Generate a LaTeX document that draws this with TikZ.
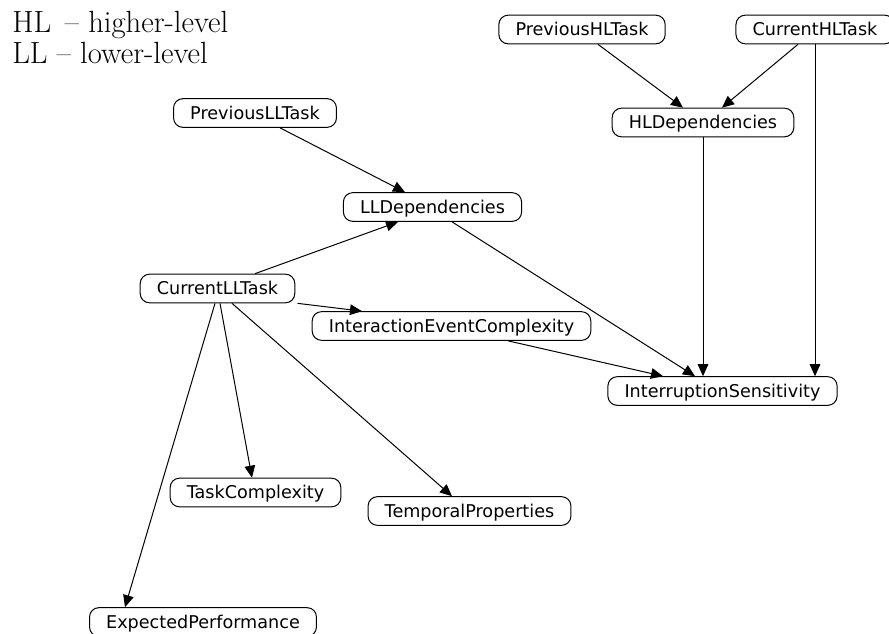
\documentclass[tikz,border=0pt]{standalone}
\usepackage{fontspec}
\newfontfamily\netfont{DejaVu Sans}
\usetikzlibrary{arrows.meta, calc}

\begin{document}
\begin{tikzpicture}[x=0.75pt, y=-0.75pt, >={Triangle[length=9pt,width=8pt]}, line join=round]
	
	%======================
	% STYLES
	%======================
	\tikzset{
		varnode/.style={draw, line width=0.75pt, rounded corners=7pt, inner xsep=12.5pt, inner ysep=0pt,
			minimum height=21.5pt, text height=9.6pt, text depth=0pt, font=\netfont\fontsize{13.2}{15}\selectfont},
		link/.style={->, line width=0.75pt},
		legendtext/.style={anchor=base west, inner sep=0pt, font=\fontsize{23}{27}\selectfont}
	}
	
	% page size in pixels
	\useasboundingbox (0,0) rectangle (889,633);
	
	%======================
	% LEGEND
	%======================
	\node[legendtext] (hlnote) at (12,32) {HL\hspace{0.45em}-- higher-level};
	\node[legendtext] (llnote) at (12,63) {LL -- lower-level};
	
	%======================
	% HIGHER-LEVEL TASK
	%======================
	\node[varnode] (prevhl) at (582,29.5) {PreviousHLTask};
	\node[varnode] (curhl) at (815,29.5) {CurrentHLTask};
	\node[varnode] (hldep) at (703,122.5) {HLDependencies};
	
	%======================
	% LOWER-LEVEL TASK
	%======================
	\node[varnode] (prevll) at (255,113) {PreviousLLTask};
	\node[varnode] (lldep) at (432.5,207) {LLDependencies};
	\node[varnode] (curll) at (217.5,288.5) {CurrentLLTask};
	\node[varnode] (intcomp) at (451.5,326) {InteractionEventComplexity};
	\node[varnode] (taskcomp) at (255.5,492.5) {TaskComplexity};
	\node[varnode] (tempprop) at (469.5,511) {TemporalProperties};
	\node[varnode] (expperf) at (203,622) {ExpectedPerformance};
	
	% target
	\node[varnode] (intsens) at (722.5,391) {InterruptionSensitivity};
	
	%======================
	% DEPENDENCIES
	%======================
	\draw[link] ($(prevhl.south)+(16,0)$) -- ($(hldep.north)+(-20,0)$);
	\draw[link] ($(curhl.south)+(-17,0)$) -- ($(hldep.north)+(19,0)$);
	\draw[link] (curhl.south) -- ($(intsens.north)+(92.5,0)$);
	\draw[link] (hldep.south) -- ($(intsens.north)+(-19.5,0)$);
	
	\draw[link] ($(prevll.south)+(25,0)$) -- ($(lldep.north)+(-27.5,0)$);
	\draw[link] ($(curll.north)+(37.5,0)$) -- ($(lldep.south)+(-34.5,0)$);
	\draw[link] ($(lldep.south)+(19.5,0)$) -- ($(intsens.north)+(-27.5,0)$);
	\draw[link] ($(curll.south)+(80,0)$) -- ($(intcomp.north)+(-89.5,0)$);
	\draw[link] ($(intcomp.south)+(56.5,0)$) -- ($(intsens.north)+(-59.5,0)$);
	
	% children of CurrentLLTask
	\draw[link] ($(curll.south)+(2.5,0)$) -- ($(taskcomp.north)+(-3.5,0)$);
	\draw[link] ($(curll.south)+(14.5,0)$) -- ($(tempprop.north)+(-17.5,0)$);
	\draw[link] ($(curll.south)+(-2.5,0)$) -- ($(expperf.north)+(-78,0)$);
	
\end{tikzpicture}
\end{document}
